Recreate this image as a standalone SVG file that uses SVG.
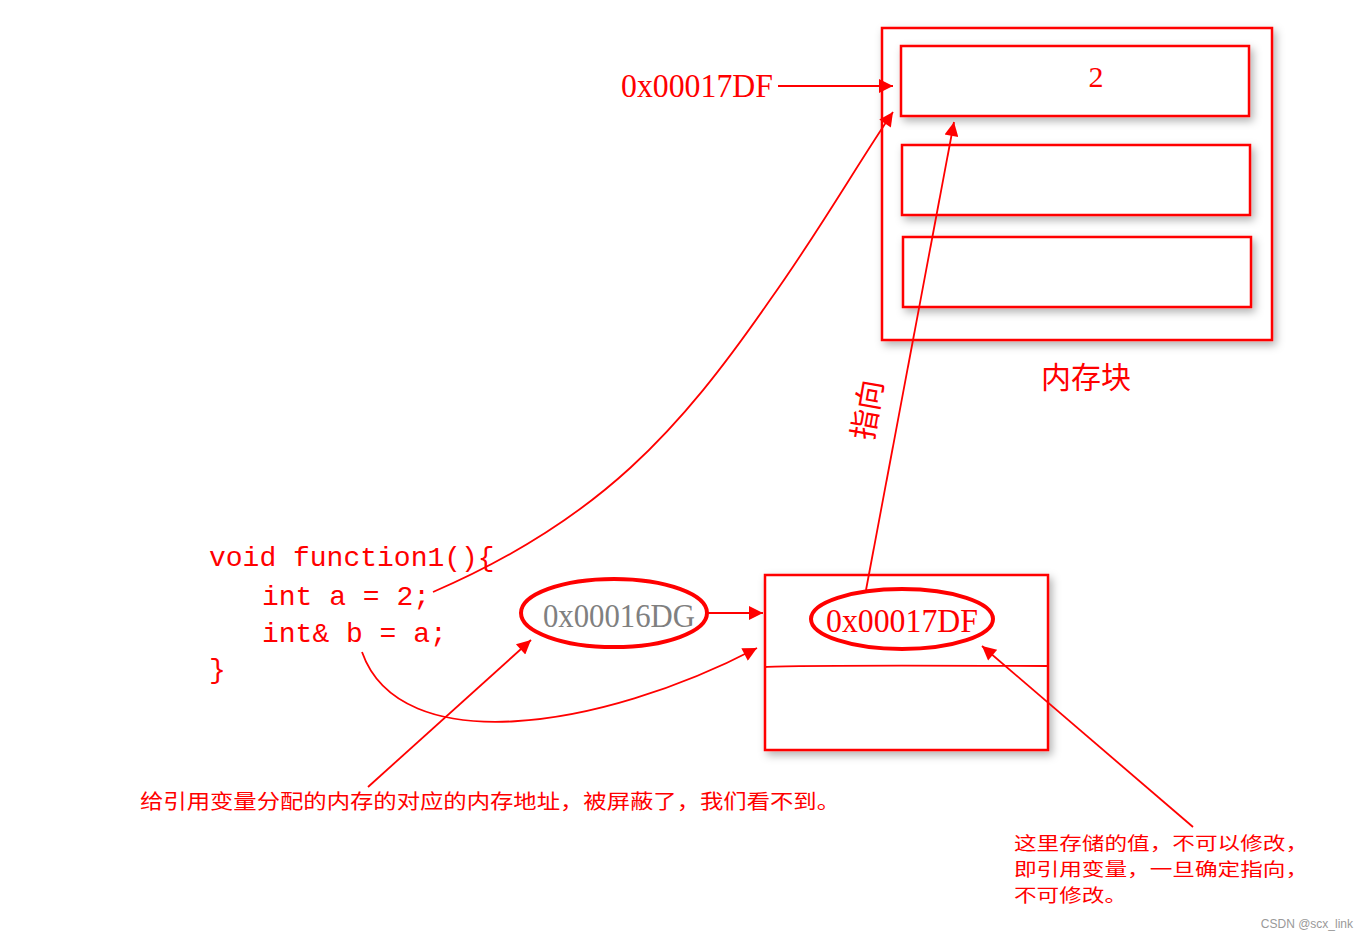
<svg xmlns="http://www.w3.org/2000/svg" width="1368" height="939" viewBox="0 0 1368 939">
<defs>
<style>
.box{fill:#fff;stroke:#f00;stroke-width:2.5;filter:url(#sh)}
.ln{fill:none;stroke:#f00;stroke-width:1.8}
.t{fill:#f00;font-family:"Liberation Serif","Noto Sans CJK SC",serif}
.code{fill:#f00;font-family:"Liberation Mono",monospace;font-size:28px}
.cn{fill:#f00;font-family:"Noto Sans CJK SC",sans-serif}
</style>
<filter id="sh" x="-10%" y="-10%" width="120%" height="130%"><feDropShadow dx="3" dy="4" stdDeviation="4" flood-color="#000" flood-opacity="0.3"/></filter>
<marker id="ar2" viewBox="0 0 10 10" refX="10" refY="5" markerWidth="18" markerHeight="14" markerUnits="userSpaceOnUse" orient="auto"><path d="M0,0L10,5L0,10z" fill="#f00"/></marker>
</defs>
<rect width="1368" height="939" fill="#fff"/>
<g id="memblock">
<rect class="box" x="882" y="28" width="390" height="312"/>
<rect class="box" x="901" y="46" width="348" height="70"/>
<rect class="box" x="902" y="145" width="348" height="70"/>
<rect class="box" x="903" y="237" width="348" height="70"/>
<text class="t" x="1096" y="87" font-size="30" text-anchor="middle">2</text>
<text class="cn" x="1086" y="388" font-size="30" text-anchor="middle">内存块</text>
</g>
<g id="refbox">
<rect class="box" x="765" y="575" width="283" height="175"/>
<path class="ln" d="M765,667 Q790,665 1048,666"/>
<ellipse cx="902" cy="619" rx="91" ry="30" fill="#fff" stroke="#f00" stroke-width="4"/>
<text class="t" x="902" y="632" font-size="34" text-anchor="middle" textLength="152" lengthAdjust="spacingAndGlyphs">0x00017DF</text>
</g>
<g id="addr">
<ellipse cx="614" cy="613" rx="93" ry="34" fill="#fff" stroke="#f00" stroke-width="4"/>
<text x="619" y="627" font-size="34" text-anchor="middle" textLength="152" lengthAdjust="spacingAndGlyphs" fill="#808080" font-family="Liberation Serif,serif">0x00016DG</text>
</g>
<g id="label">
<text class="t" x="621" y="97" font-size="34" textLength="152" lengthAdjust="spacingAndGlyphs">0x00017DF</text>
</g>
<g id="code">
<text class="code" x="209" y="566">void function1(){</text>
<text class="code" x="262" y="605">int a = 2;</text>
<text class="code" x="262" y="642">int&amp; b = a;</text>
<text class="code" x="209" y="678">}</text>
</g>
<g id="notes">
<text class="cn" x="140" y="809" font-size="20" textLength="700" lengthAdjust="spacingAndGlyphs">给引用变量分配的内存的对应的内存地址，被屏蔽了，我们看不到。</text>
<text class="cn" x="1014" y="850" font-size="18" textLength="294" lengthAdjust="spacingAndGlyphs">这里存储的值，不可以修改，</text>
<text class="cn" x="1014" y="876" font-size="18" textLength="294" lengthAdjust="spacingAndGlyphs">即引用变量，一旦确定指向，</text>
<text class="cn" x="1014" y="902" font-size="18" textLength="113" lengthAdjust="spacingAndGlyphs">不可修改。</text>
<text class="cn" x="868" y="420" font-size="30" text-anchor="middle" transform="rotate(-80 868 410)">指向</text>
<text x="1353" y="928" font-size="12" text-anchor="end" fill="#999" font-family="Liberation Sans,sans-serif">CSDN @scx_link</text>
</g>
<g id="connectors">
<line class="ln" x1="778" y1="86" x2="893" y2="86" marker-end="url(#ar2)"/>
<path class="ln" d="M433,592 C600,520 680,430 770,300 C820,230 860,160 893,112" marker-end="url(#ar2)"/>
<line class="ln" x1="866" y1="590" x2="954" y2="122" marker-end="url(#ar2)"/>
<line class="ln" x1="707" y1="613" x2="763" y2="613" marker-end="url(#ar2)"/>
<path class="ln" d="M362,652 C400,760 600,730 757,648" marker-end="url(#ar2)"/>
<line class="ln" x1="368" y1="787" x2="531" y2="640" marker-end="url(#ar2)"/>
<line class="ln" x1="1193" y1="827" x2="982" y2="646" marker-end="url(#ar2)"/>
</g>
</svg>
